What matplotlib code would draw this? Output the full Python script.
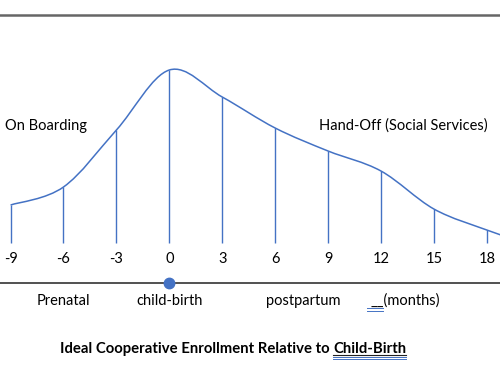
import matplotlib

matplotlib.use("Agg")
import matplotlib.pyplot as plt
from matplotlib.path import Path
from matplotlib.patches import PathPatch
from matplotlib.lines import Line2D

# months relative to child-birth, and curve height above the base at each month
months = [-9, -6, -3, 0, 3, 6, 9, 12, 15, 18]
enrollment = [38, 56, 113, 173, 146, 115, 92, 72, 34, 13]
tail_month, tail_level = 19.5, 4

phase_labels = ["Prenatal", "child-birth", "postpartum", "__(months)"]
phase_months = [-6, 0, 7.6, 13.4]
left_note = "On Boarding"
right_note = "Hand-Off (Social Services)"
title_main = "Ideal Cooperative Enrollment Relative to "
title_key = "Child-Birth"

BLUE = "#4472C4"
FONT = "Lato"


def smooth_path(xs, ys):
    # Catmull-Rom through the points, written as cubic bezier segments
    pts = list(zip(xs, ys))
    verts = [pts[0]]
    codes = [Path.MOVETO]
    for i in range(len(pts) - 1):
        p0 = pts[i - 1] if i > 0 else pts[i]
        p1 = pts[i]
        p2 = pts[i + 1]
        p3 = pts[i + 2] if i + 2 < len(pts) else pts[i + 1]
        c1 = (p1[0] + (p2[0] - p0[0]) / 6, p1[1] + (p2[1] - p0[1]) / 6)
        c2 = (p2[0] - (p3[0] - p1[0]) / 6, p2[1] - (p3[1] - p1[1]) / 6)
        verts += [c1, c2, p2]
        codes += [Path.CURVE4] * 3
    return Path(verts, codes)


fig = plt.figure(figsize=(5, 3.75), dpi=100)
ax = fig.add_axes([0, 0, 1, 1])
ax.set_xlim(-9.6, 18.75)
ax.set_ylim(-132, 243)
ax.axis("off")

# top rule and the time axis
ax.axhline(228, color="#666666", lw=1.8)
ax.axhline(-40, color="#222222", lw=1.1)

curve = smooth_path(months + [tail_month], enrollment + [tail_level])
ax.add_patch(PathPatch(curve, fill=False, edgecolor=BLUE, lw=1.1))
ax.vlines(months, 0, enrollment, color=BLUE, lw=1.0)

for m in months:
    ax.text(m, -16, str(m), ha="center", va="center", fontsize=10.5, family=FONT)

ax.plot([0], [-40], "o", color=BLUE, markersize=7.5, clip_on=False)

for label, m in zip(phase_labels, phase_months):
    ax.text(m, -58, label, ha="center", va="center", fontsize=10.5, family=FONT)

ax.text(-9.3, 117, left_note, ha="left", va="center", fontsize=10.5, family=FONT)
ax.text(8.5, 117, right_note, ha="left", va="center", fontsize=10.5, family=FONT)

t1 = fig.text(0.12, 1 - 349 / 375, title_main, ha="left", va="center",
              fontsize=10.7, family=FONT, weight="bold")
t2 = ax.annotate(title_key, xy=(1, 0), xycoords=t1, va="bottom", ha="left",
                 fontsize=10.7, family=FONT, weight="bold")

# spell-check style underlines under the key word and the underscores
fig.canvas.draw()
bb = t2.get_window_extent()
W, H = fig.bbox.width, fig.bbox.height
x0, x1 = bb.x0 / W, bb.x1 / W
yb = bb.y0 / H
fig.add_artist(Line2D([x0, x1], [yb + 0.004, yb + 0.004], color="#222222", lw=0.8))
fig.add_artist(Line2D([x0, x1], [yb - 0.002, yb - 0.002], color=BLUE, lw=0.7))
fig.add_artist(Line2D([x0, x1], [yb - 0.008, yb - 0.008], color=BLUE, lw=0.7))
fig.add_artist(Line2D([367 / W, 383 / W], [1 - 308 / H, 1 - 308 / H], color=BLUE, lw=0.7))
fig.add_artist(Line2D([367 / W, 383 / W], [1 - 310.5 / H, 1 - 310.5 / H], color=BLUE, lw=0.7))

fig.savefig("out.png", dpi=100)
